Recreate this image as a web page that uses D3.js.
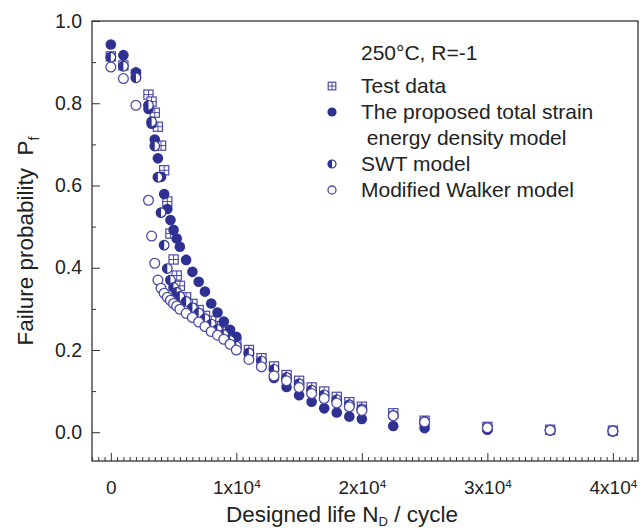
<!DOCTYPE html>
<html><head><meta charset="utf-8">
<script src="https://cdn.jsdelivr.net/npm/d3@7"></script>
<style>
body{margin:0;background:#fff}
svg{display:block}
text{font-family:"Liberation Sans",Arial,sans-serif;fill:#222}
</style>
</head><body>
<svg id="c" width="644" height="530"></svg>
<script>
// ---- data ----
const designLife = [0, 1000, 2000, 3000, 3250, 3500, 3750, 4000, 4250, 4500, 4750, 5000, 5250, 5500,
  6000, 6500, 7000, 7500, 8000, 8500, 9000, 9500, 10000, 11000, 12000, 13000, 14000, 15000,
  16000, 17000, 18000, 19000, 20000, 22500, 25000, 30000, 35000, 40000];
const testData = [0.914, 0.892, 0.870, 0.821, 0.804, 0.777, 0.743, 0.697, 0.637, 0.561, 0.483, 0.420, 0.381, 0.356,
  0.328, 0.312, 0.297, 0.283, 0.271, 0.258, 0.244, 0.230, 0.217, 0.200, 0.180, 0.160, 0.139, 0.125,
  0.109, 0.099, 0.086, 0.073, 0.062, 0.046, 0.028, 0.013, 0.006, 0.004];
const proposedModel = [0.943, 0.917, 0.875, 0.786, 0.750, 0.712, 0.666, 0.621, 0.579, 0.543, 0.516, 0.492, 0.471, 0.451,
  0.419, 0.390, 0.366, 0.342, 0.313, 0.291, 0.269, 0.249, 0.232, 0.190, 0.160, 0.132, 0.110, 0.090,
  0.074, 0.058, 0.048, 0.038, 0.032, 0.015, 0.010, 0.006, 0.004, 0.002];
const swtModel = [0.912, 0.890, 0.862, 0.795, 0.755, 0.696, 0.620, 0.534, 0.455, 0.398, 0.370, 0.352, 0.340, 0.330,
  0.318, 0.303, 0.290, 0.276, 0.263, 0.250, 0.237, 0.223, 0.209, 0.193, 0.173, 0.153, 0.133, 0.118,
  0.102, 0.091, 0.079, 0.067, 0.057, 0.041, 0.026, 0.012, 0.005, 0.003];
const walkerModel = [0.888, 0.860, 0.795, 0.564, 0.477, 0.411, 0.370, 0.350, 0.338, 0.328, 0.321, 0.313, 0.307, 0.299,
  0.289, 0.279, 0.268, 0.257, 0.245, 0.236, 0.226, 0.214, 0.200, 0.177, 0.159, 0.137, 0.125, 0.109,
  0.094, 0.082, 0.071, 0.062, 0.053, 0.040, 0.025, 0.011, 0.005, 0.003];
const xMajorTicks = [0, 10000, 20000, 30000, 40000];
const yMajorTicks = [0, 0.2, 0.4, 0.6, 0.8, 1.0];
const yMinorTicks = [0.1, 0.3, 0.5, 0.7, 0.9];
const legendTitle = "250°C, R=-1";
const legendLabels = ["Test data", "The proposed total strain", " energy density model", "SWT model", "Modified Walker model"];

// ---- chart ----
const L = 92, R = 638, T = 21, B = 461;
const dark = "#2e3192", light = "#4a4aa6", axisCol = "#333";
const svg = d3.select("#c");
const x = d3.scaleLinear().domain([-1500, 42000]).range([L, R]);
const y = d3.scaleLinear().domain([-0.07, 1.0]).range([B, T]);

// minor ticks
const xMinor = d3.range(-1500, 42000, 500).filter(v => v % 10000 !== 0);
svg.append("g").attr("transform", `translate(0,${B})`)
  .call(d3.axisBottom(x).tickValues(xMinor).tickSize(-4).tickFormat(""))
  .call(g => g.select(".domain").remove())
  .call(g => g.selectAll("line").attr("stroke", axisCol));
svg.append("g").attr("transform", `translate(${L},0)`)
  .call(d3.axisLeft(y).tickValues(yMinorTicks).tickSize(-4).tickFormat(""))
  .call(g => g.select(".domain").remove())
  .call(g => g.selectAll("line").attr("stroke", axisCol));

// major x
const gx = svg.append("g").attr("transform", `translate(0,${B})`)
  .call(d3.axisBottom(x).tickValues(xMajorTicks).tickSize(-8).tickPadding(20).tickFormat(d => d))
  .call(g => g.select(".domain").remove());
gx.selectAll("line").attr("stroke", axisCol);
gx.selectAll("text").attr("font-size", 19).attr("fill", "#222")
  .style("font-family", '"Liberation Sans",Arial,sans-serif')
  .each(function (d) {
    const t = d3.select(this);
    t.text(null);
    if (d === 0) { t.text("0"); return; }
    t.append("tspan").text((d / 10000) + "x10");
    t.append("tspan").attr("dy", "-0.55em").attr("font-size", "0.62em").text("4");
  });

// major y
const gy = svg.append("g").attr("transform", `translate(${L},0)`)
  .call(d3.axisLeft(y).tickValues(yMajorTicks).tickSize(-8).tickPadding(10).tickFormat(d3.format(".1f")))
  .call(g => g.select(".domain").remove());
gy.selectAll("line").attr("stroke", axisCol);
gy.selectAll("text").attr("font-size", 19.5).attr("fill", "#222")
  .style("font-family", '"Liberation Sans",Arial,sans-serif');

// frame
svg.append("rect").attr("x", L).attr("y", T).attr("width", R - L).attr("height", B - T)
  .attr("fill", "none").attr("stroke", axisCol).attr("stroke-width", 1.3);

// markers
const pts = (vals) => designLife.map((n, i) => ({n, p: vals[i]}));
function drawSquare(g, s) {
  g.append("rect").attr("x", -s).attr("y", -s).attr("width", 2 * s).attr("height", 2 * s)
    .attr("fill", "#fff").attr("stroke", light).attr("stroke-width", 1.2);
  g.append("path").attr("d", `M${-s},0H${s}M0,${-s}V${s}`).attr("stroke", light).attr("stroke-width", 1);
}
function drawFilled(g, r) {
  g.append("circle").attr("r", r).attr("fill", dark);
}
function drawHalf(g, r) {
  g.append("circle").attr("r", r).attr("fill", "#fff").attr("stroke", dark).attr("stroke-width", 1.2);
  g.append("path").attr("d", `M0,${-r}A${r},${r} 0 0 0 0,${r}Z`).attr("fill", dark);
}
function drawOpen(g, r) {
  g.append("circle").attr("r", r).attr("fill", "#fff").attr("stroke", light).attr("stroke-width", 1.3);
}

const plot = svg.append("g");
function series(vals, fn, size) {
  plot.append("g").selectAll("g").data(pts(vals)).join("g")
    .attr("transform", d => `translate(${x(d.n)},${y(d.p)})`)
    .each(function () { fn(d3.select(this), size); });
}
series(testData, drawSquare, 4.6);
series(proposedModel, drawFilled, 5.3);
series(swtModel, drawHalf, 4.8);
series(walkerModel, drawOpen, 4.9);

// legend
const lg = svg.append("g");
lg.append("text").attr("x", 361).attr("y", 60).attr("font-size", 21).text(legendTitle);
const rowsY = [93, 119, 145, 171, 197];
const syms = [drawSquare, drawFilled, null, drawHalf, drawOpen];
const symSize = [3.8, 4.6, 0, 4.0, 4.0];
legendLabels.forEach((lab, i) => {
  lg.append("text").attr("x", 361).attr("y", rowsY[i]).attr("font-size", 21)
    .attr("xml:space", "preserve").style("white-space", "pre").text(lab);
  if (syms[i]) {
    const g = lg.append("g").attr("transform", `translate(332,${rowsY[i] - 7})`);
    syms[i](g, symSize[i]);
  }
});

// axis titles
const xt = svg.append("text").attr("x", 342).attr("y", 522).attr("text-anchor", "middle").attr("font-size", 22.5);
xt.append("tspan").text("Designed life N");
xt.append("tspan").attr("dy", 4).attr("font-size", 13).text("D");
xt.append("tspan").attr("dy", -4).text(" / cycle");

const yt = svg.append("text").attr("transform", "translate(33,241) rotate(-90)")
  .attr("text-anchor", "middle").attr("font-size", 22.5).style("white-space", "pre");
yt.append("tspan").text("Failure probability  P");
yt.append("tspan").attr("dy", 6).attr("font-size", 14).text("f");
</script>
</body></html>
